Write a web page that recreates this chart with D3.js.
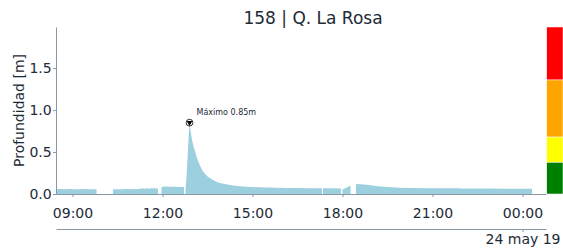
<!DOCTYPE html>
<html>
<head>
<meta charset="utf-8">
<script src="https://cdn.jsdelivr.net/npm/d3@7"></script>
<style>
body { margin: 0; background: #fff; }
svg { display: block; font-family: "DejaVu Sans", sans-serif; }
</style>
</head>
<body>
<svg width="563" height="250"></svg>
<script>

// readings (null = no data)
var times = [
  "23 08:27","23 08:35","23 08:45","23 08:55","23 09:05","23 09:15","23 09:25","23 09:35","23 09:48","23 09:49",
  "23 10:21","23 10:30","23 10:40","23 10:50","23 11:00","23 11:10","23 11:15","23 11:20","23 11:24","23 11:28",
  "23 11:32","23 11:36","23 11:40","23 11:44","23 11:48","23 11:51","23 11:52","23 11:58","23 12:05","23 12:15",
  "23 12:25","23 12:35","23 12:43","23 12:44",
  "23 12:46","23 12:48","23 12:50","23 12:52","23 12:54","23 12:56","23 12:58","23 13:00","23 13:03","23 13:06",
  "23 13:09","23 13:12","23 13:15","23 13:18","23 13:21","23 13:25","23 13:30","23 13:35","23 13:40","23 13:45",
  "23 13:50","23 13:55","23 14:05","23 14:15","23 14:25","23 14:40","23 14:55","23 15:10","23 15:30","23 15:50",
  "23 16:10","23 16:30","23 16:50","23 17:10","23 17:19","23 17:20","23 17:21","23 17:40","23 17:57","23 17:58",
  "23 18:00","23 18:04","23 18:08","23 18:12","23 18:16","23 18:17","23 18:27","23 18:35","23 18:45","23 19:00",
  "23 19:10","23 19:30","23 19:55","23 20:20","23 20:50","23 21:20","23 21:50","23 21:58","23 22:00","23 22:02",
  "23 22:30","23 23:00","23 23:30","24 00:00","24 00:19"
];
var depth = [
  0.058,0.059,0.058,0.059,0.058,0.058,0.059,0.058,0.058,null,
  0.057,0.058,0.058,0.059,0.058,0.060,0.062,0.070,0.061,0.072,
  0.064,0.070,0.066,0.072,0.063,0.068,null,0.084,0.088,0.087,
  0.086,0.084,0.082,null,
  0.05,0.20,0.42,0.65,0.85,0.76,0.68,0.62,0.55,0.49,
  0.43,0.38,0.34,0.30,0.27,0.24,0.21,0.19,0.17,0.155,
  0.14,0.13,0.118,0.106,0.098,0.090,0.083,0.079,0.076,0.074,
  0.072,0.071,0.070,0.069,0.069,null,0.068,0.068,0.067,null,
  0.058,0.066,0.075,0.090,0.100,null,0.120,0.117,0.112,0.100,
  0.092,0.082,0.074,0.071,0.070,0.069,0.068,0.067,0.062,0.067,
  0.066,0.065,0.064,0.063,0.062
];

var xStart = "23 08:27", xEnd = "24 00:47";
var xTicks = ["23 09:00","23 12:00","23 15:00","23 18:00","23 21:00","24 00:00"];
var yTicks = [0, 0.5, 1.0, 1.5];
var yMax = 1.99;

// alert levels for the side bar
var levelTops = [0.38, 0.68, 1.36, 1.99];
var levelColors = ["#008000", "#ffff00", "#ffa500", "#ff0000"];

var peakTime = "23 12:54", peakValue = 0.85;
var title = "158 | Q. La Rosa";
var dateTick = "24 00:00", dateLabel = "24 may 19";

var svg = d3.select("svg"),
    mLeft = 56, mRight = 546, mTop = 27, mBottom = 194,
    ink = "#1e2a36", spine = "#8897a3";

var parseTime = d3.timeParse("%d %H:%M");

var data = times.map(function(t, i) { return {date: parseTime(t), v: depth[i]}; });

var x = d3.scaleTime()
    .domain([parseTime(xStart), parseTime(xEnd)])
    .range([mLeft, mRight]);

var y = d3.scaleLinear()
    .domain([0, yMax])
    .range([mBottom, mTop]);

var area = d3.area()
    .defined(function(d) { return d.v != null; })
    .x(function(d) { return x(d.date); })
    .y0(y(0))
    .y1(function(d) { return y(d.v); });

svg.append("path")
    .datum(data)
    .attr("fill", "#9dd0df")
    .attr("d", area);

// x axis
var gx = svg.append("g")
    .attr("transform", "translate(0," + mBottom + ")")
    .call(d3.axisBottom(x)
      .tickValues(xTicks.map(parseTime))
      .tickFormat(d3.timeFormat("%H:%M"))
      .tickSize(3).tickSizeOuter(0).tickPadding(11));

// y axis
var gy = svg.append("g")
    .attr("transform", "translate(" + mLeft + ",0)")
    .call(d3.axisLeft(y)
      .tickValues(yTicks)
      .tickFormat(d3.format(".1f"))
      .tickSize(3).tickSizeOuter(0).tickPadding(1.3));

// date axis underneath
var gd = svg.append("g")
    .attr("transform", "translate(0,229)")
    .call(d3.axisBottom(x)
      .tickValues([parseTime(dateTick)])
      .tickFormat(function() { return dateLabel; })
      .tickSize(3).tickSizeOuter(0).tickPadding(2.4));

[gx, gy, gd].forEach(function(g) {
  g.select(".domain").attr("stroke", spine);
  g.selectAll(".tick line").attr("stroke", spine);
  g.selectAll(".tick text")
      .attr("fill", ink)
      .style("font-size", "14px")
      .style("font-family", "DejaVu Sans");
});

svg.append("text")
    .attr("transform", "translate(19," + ((mTop + mBottom) / 2) + ") rotate(-90)")
    .attr("text-anchor", "middle")
    .attr("dy", "0.35em")
    .attr("fill", ink)
    .style("font-size", "14px")
    .text("Profundidad [m]");

svg.append("text")
    .attr("x", 313)
    .attr("y", 24)
    .attr("text-anchor", "middle")
    .attr("fill", ink)
    .style("font-size", "17px")
    .text(title);

// peak marker
var px = x(parseTime(peakTime)), py = y(peakValue);
svg.append("circle")
    .attr("cx", px).attr("cy", py).attr("r", 3.4)
    .attr("fill", "#fff").attr("stroke", "#000").attr("stroke-width", 0.8);
svg.append("path")
    .attr("transform", "translate(" + px + "," + py + ") rotate(180)")
    .attr("d", d3.symbol().type(d3.symbolTriangle).size(14))
    .attr("fill", "#000");
svg.append("text")
    .attr("x", px + 7)
    .attr("y", py - 7.5)
    .attr("fill", ink)
    .style("font-size", "8px")
    .text("Máximo " + peakValue.toFixed(2) + "m");

// level bar
var lows = [0].concat(levelTops.slice(0, -1));
svg.append("g").selectAll("rect")
    .data(levelTops)
  .enter().append("rect")
    .attr("x", 546.7)
    .attr("width", 563 - 546.7)
    .attr("y", function(d) { return y(d); })
    .attr("height", function(d, i) { return y(lows[i]) - y(d); })
    .attr("fill", function(d, i) { return levelColors[i]; })
    .attr("stroke", "#fff")
    .attr("stroke-width", 0.5);

</script>
</body>
</html>
